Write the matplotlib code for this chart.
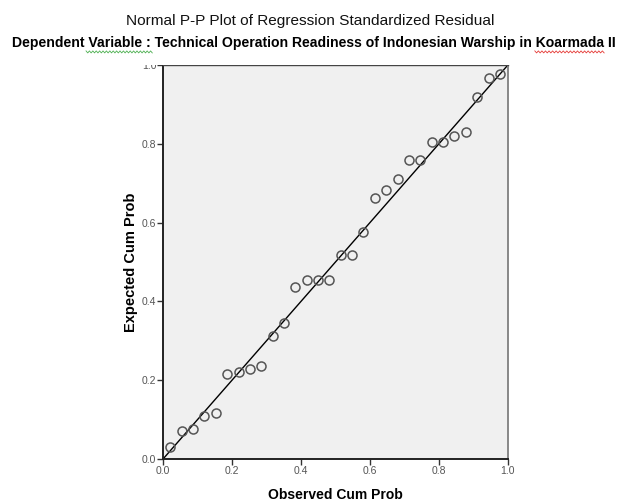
import numpy as np
import matplotlib
matplotlib.use('Agg')
from matplotlib import pyplot as plt
from matplotlib.patches import Rectangle

# observed vs expected cumulative probabilities
observed_cum_prob = [
    0.020, 0.054, 0.087, 0.120, 0.153, 0.186, 0.219, 0.252, 0.285, 0.318,
    0.350, 0.383, 0.416, 0.449, 0.482, 0.515, 0.548, 0.581, 0.614, 0.647,
    0.680, 0.713, 0.746, 0.779, 0.812, 0.845, 0.878, 0.911, 0.944, 0.976,
]
expected_cum_prob = [
    0.030, 0.070, 0.077, 0.108, 0.118, 0.216, 0.221, 0.229, 0.236, 0.311,
    0.346, 0.437, 0.454, 0.454, 0.454, 0.518, 0.518, 0.575, 0.662, 0.683,
    0.710, 0.759, 0.759, 0.805, 0.805, 0.821, 0.830, 0.919, 0.967, 0.977,
]
tick_values = [0.0, 0.2, 0.4, 0.6, 0.8, 1.0]
tick_labels = ['0.0', '0.2', '0.4', '0.6', '0.8', '1.0']

title_main = 'Normal P-P Plot of Regression Standardized Residual'
title_dep = ('Dependent Variable : Technical Operation Readiness of '
             'Indonesian Warship in Koarmada II')

plt.rcParams['font.family'] = ['Liberation Sans', 'DejaVu Sans']

fig = plt.figure(figsize=(6.19, 5.04), dpi=100)
ax = fig.add_axes([0.2634, 0.0893, 0.5571, 0.7817])
ax.set_facecolor('#f0f0f0')

# reference diagonal
ax.plot([0, 1], [0, 1], color='black', linewidth=1.0, zorder=2)

ax.plot(
    observed_cum_prob,
    expected_cum_prob,
    linestyle='none',
    marker='o',
    markersize=6.5,
    markerfacecolor='none',
    markeredgecolor='#555555',
    markeredgewidth=1.1,
    zorder=3,
)

ax.set_xlim(0, 1)
ax.set_ylim(0, 1)
ax.set_xticks(tick_values)
ax.set_xticklabels(tick_labels)
ax.set_yticks(tick_values)
ax.set_yticklabels(tick_labels)
ax.tick_params(axis='both', which='major', direction='out', length=4,
               width=1.0, color='#333333', labelsize=7.5,
               labelcolor='#555555', pad=0.8)

for side in ['left', 'bottom']:
    ax.spines[side].set_color('#222222')
    ax.spines[side].set_linewidth(1.4)
ax.spines['top'].set_color('#444444')
ax.spines['top'].set_linewidth(1.0)
ax.spines['right'].set_color('#888888')
ax.spines['right'].set_linewidth(1.4)

ax.set_xlabel('Observed Cum Prob', fontsize=10, fontweight='bold',
              labelpad=9)
ax.set_ylabel('Expected Cum Prob', fontsize=10.5, fontweight='bold',
              labelpad=3)

# white band hiding the top of the 1.0 label, as in the source image
fig.patches.append(Rectangle((0, 0.872), 1, 0.2, transform=fig.transFigure,
                             facecolor='white', edgecolor='none', zorder=1))

fig.text(0.501, 0.958, title_main, ha='center', va='center', fontsize=11.1,
         color='#111111', zorder=3)
fig.text(0.507, 0.914, title_dep, ha='center', va='center', fontsize=10.1,
         fontweight='bold', color='black', zorder=3)

# spell-check squiggles under "Variable" and "Koarmada II"
for x0, x1, col in [(0.139, 0.246, '#4caf50'), (0.864, 0.976, '#e53935')]:
    xs = np.linspace(x0, x1, 40)
    ys = 0.897 + 0.002 * np.where(np.arange(40) % 2 == 0, 1, -1)
    fig.add_artist(plt.Line2D(xs, ys, transform=fig.transFigure,
                              color=col, linewidth=0.6, zorder=3))

plt.savefig('out.png', dpi=100)
